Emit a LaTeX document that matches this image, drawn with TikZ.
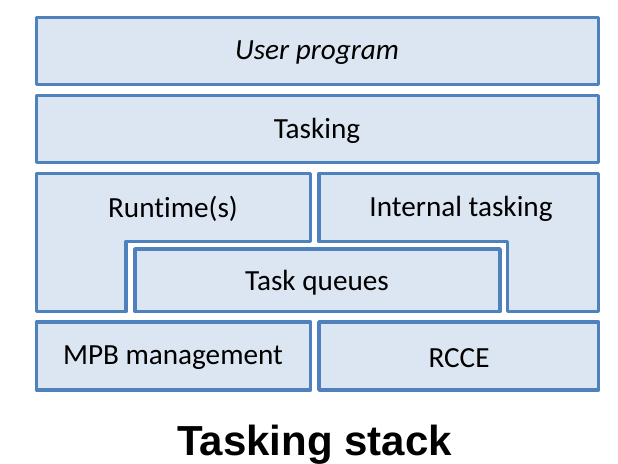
\documentclass[tikz,border=0pt]{standalone}
\usepackage{fontspec}
\setmainfont{Carlito}[Ligatures={NoCommon}]
\newfontfamily\titlefont{Liberation Sans}
\definecolor{lineblue}{HTML}{4F81BD}
\definecolor{fillblue}{HTML}{DCE6F2}
\begin{document}
\begin{tikzpicture}[x=1pt,y=-1pt,
  layer/.style={draw=lineblue, fill=fillblue, line width=3.4pt, line join=round},
  lbl/.style={font=\fontsize{29.2}{32}\selectfont, text=black, inner sep=0pt}]
\useasboundingbox (0,0) rectangle (618,463);

% top two full-width layers
\draw[layer] (36.5,17.5) rectangle (598.5,84.5);
\node[lbl] (user) at (317,53) {\itshape User program};
\draw[layer] (36.5,95.5) rectangle (598.5,162.5);
\node[lbl] (tasking) at (317,131) {Tasking};

% runtime layer, L-shaped around the task queues
\draw[layer] (36.5,173.5) -- (310.5,173.5) -- (310.5,241.5) -- (126,241.5)
  -- (126,311.5) -- (36.5,311.5) -- cycle;
\node[lbl] (runtime) at (173,209) {Runtime(s)};

% internal tasking layer, mirrored L-shape
\draw[layer] (319,173.5) -- (598.5,173.5) -- (598.5,311.5) -- (507.5,311.5)
  -- (507.5,241.5) -- (319,241.5) -- cycle;
\node[lbl] (internal) at (461,209) {Internal tasking};

% task queues nested between the two
\draw[layer] (135,249) rectangle (500,311.5);
\node[lbl] (queues) at (317,283) {Task queues};

% bottom layer
\draw[layer] (36.5,322) rectangle (310.5,390);
\node[lbl] (mpb) at (173,358) {MPB management};
\draw[layer] (319,322) rectangle (598.5,390);
\node[lbl] (rcce) at (459,358) {RCCE};

% caption
\node[font=\titlefont\bfseries\fontsize{42}{46}\selectfont, inner sep=0pt, anchor=base]
  (caption) at (314.5,455) {Tasking stack};
\end{tikzpicture}
\end{document}
